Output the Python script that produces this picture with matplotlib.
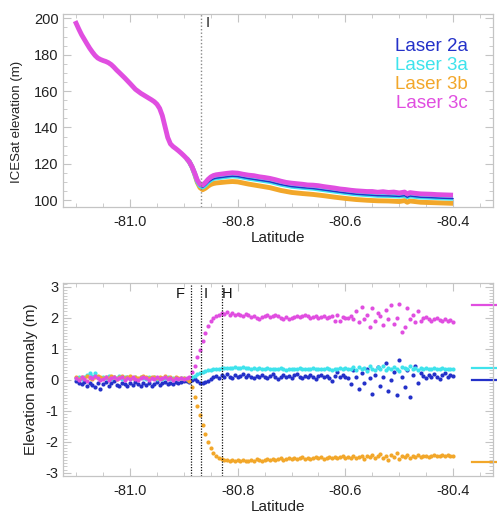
import numpy as np
import matplotlib
matplotlib.use("Agg")
import matplotlib.pyplot as plt
from matplotlib.ticker import MultipleLocator

plt.rcParams["font.family"] = ["Liberation Sans", "DejaVu Sans"]
plt.rcParams["axes.unicode_minus"] = False

# colours of the four laser campaigns
c2a = "#2431c9"
c3a = "#3fe3ec"
c3b = "#f2a72a"
c3c = "#e04ee0"

# ---- top panel: ICESat elevation (m) ----
top_lat_3c = [-81.102, -81.095, -81.090, -81.085, -81.080, -81.075, -81.070, -81.065,
              -81.060, -81.055, -81.050, -81.045, -81.040, -81.035, -81.030, -81.025,
              -81.020, -81.010, -81.000, -80.990, -80.980, -80.970, -80.960, -80.955,
              -80.950, -80.945, -80.940, -80.935, -80.930, -80.925, -80.920, -80.915,
              -80.910, -80.905, -80.900, -80.895, -80.890, -80.885, -80.880, -80.875,
              -80.870, -80.865, -80.860, -80.855, -80.850, -80.845, -80.840, -80.830,
              -80.820, -80.810, -80.800, -80.790, -80.780, -80.770, -80.760, -80.750,
              -80.740, -80.730, -80.720, -80.710, -80.700, -80.690, -80.680, -80.670,
              -80.660, -80.650, -80.640, -80.630, -80.620, -80.610, -80.600, -80.590,
              -80.580, -80.570, -80.560, -80.550, -80.540, -80.530, -80.520, -80.510,
              -80.500, -80.490, -80.485, -80.480, -80.470, -80.460, -80.450, -80.440,
              -80.430, -80.420, -80.410, -80.400]
top_3c = [198.5, 194.0, 191.0, 188.5, 186.0, 183.6, 181.5, 179.6,
          178.2, 177.4, 176.8, 176.3, 175.6, 174.6, 173.2, 171.6,
          170.2, 167.3, 164.2, 161.0, 158.8, 157.0, 155.2, 154.2,
          152.8, 150.5, 146.5, 140.5, 134.5, 131.0, 129.5, 128.4,
          127.2, 125.9, 124.5, 123.0, 121.2, 118.5, 115.0, 111.0,
          108.8, 108.4, 109.8, 111.5, 112.8, 113.6, 114.0, 114.4,
          114.8, 115.1, 114.9, 114.3, 113.8, 113.5, 112.9, 112.5,
          112.0, 111.3, 110.5, 109.8, 109.4, 109.1, 108.8, 108.4,
          108.3, 108.0, 107.5, 107.1, 106.7, 106.2, 105.9, 105.5,
          105.2, 105.0, 104.8, 104.8, 104.4, 104.7, 104.3, 104.5,
          104.0, 104.5, 103.5, 104.2, 103.8, 103.5, 103.4, 103.3,
          103.1, 103.0, 102.9, 102.8]

top_lat_b = [-80.895, -80.890, -80.885, -80.880, -80.875, -80.870, -80.865, -80.860,
             -80.855, -80.850, -80.845, -80.840, -80.830, -80.820, -80.810, -80.800,
             -80.780, -80.760, -80.740, -80.720, -80.700, -80.680, -80.660, -80.640,
             -80.620, -80.600, -80.580, -80.560, -80.540, -80.520, -80.500, -80.490,
             -80.485, -80.480, -80.460, -80.440, -80.420, -80.400]
top_2a = [122.8, 121.0, 118.2, 114.5, 110.2, 107.8, 107.1, 108.2,
          109.7, 110.9, 111.7, 112.1, 112.5, 112.9, 113.2, 113.0,
          111.9, 111.0, 110.1, 108.6, 107.5, 106.9, 106.4, 105.6,
          104.8, 104.0, 103.3, 102.9, 102.5, 102.4, 102.1, 102.5,
          101.6, 102.3, 101.6, 101.4, 101.1, 100.9]
top_3a = [123.0, 121.2, 118.4, 114.7, 110.4, 108.0, 107.3, 108.4,
          110.0, 111.2, 112.0, 112.3, 112.7, 113.1, 113.4, 113.2,
          112.1, 111.2, 110.3, 108.8, 107.7, 107.1, 106.6, 105.8,
          105.0, 104.2, 103.5, 103.1, 102.7, 102.6, 102.3, 102.6,
          101.9, 102.4, 101.8, 101.6, 101.3, 101.1]
top_3b = [123.0, 121.2, 118.4, 114.4, 109.8, 106.9, 105.8, 106.6,
          107.8, 108.7, 109.2, 109.5, 109.8, 110.1, 110.3, 110.1,
          108.9, 107.9, 106.9, 105.4, 104.3, 103.7, 103.2, 102.5,
          101.7, 101.0, 100.4, 100.0, 99.7, 99.6, 99.3, 99.8,
          98.9, 99.6, 98.9, 98.7, 98.5, 98.3]

# ---- bottom panel: elevation anomaly (m), one value every 0.005 deg ----
lat_start, lat_step, n_pts = -81.100, 0.005, 141

anom_3c = [0.05, 0.00, 0.08, 0.02, -0.03, 0.10, 0.04, 0.12, 0.06, 0.00,
           0.03, 0.08, -0.02, 0.05, 0.09, 0.01, 0.04, 0.07, 0.00, 0.06,
           0.02, 0.08, 0.03, -0.01, 0.05, 0.10, 0.04, 0.00, 0.06, 0.03,
           0.07, 0.01, 0.05, 0.09, 0.02, 0.04, 0.00, 0.06, 0.03, 0.05,
           0.02, 0.05, 0.10, 0.25, 0.45, 0.72, 0.95, 1.25, 1.50, 1.72,
           1.88, 2.00, 2.06, 2.10, 2.14, 2.12, 2.17, 2.10, 2.15, 2.08, 2.13,
           2.10, 2.05, 2.12, 2.08, 2.02, 2.06, 2.00, 1.96, 2.01, 2.04,
           2.08, 2.03, 2.06, 2.10, 2.04, 2.00, 1.97, 2.02, 1.95, 1.98,
           2.03, 2.07, 2.01, 2.05, 2.09, 2.04, 2.00, 2.03, 2.06, 1.99,
           2.02, 2.05, 1.98, 2.01, 2.06, 1.90, 2.10, 1.88, 2.02, 2.00,
           1.98, 2.04, 1.95, 2.20, 1.85, 2.35, 1.95, 2.10, 1.70, 2.30,
           1.90, 2.15, 2.05, 1.75, 2.25, 1.95, 2.40, 1.80, 2.00, 2.45,
           1.55, 1.70, 2.30, 1.95, 2.10, 1.85, 2.20, 1.90,
           1.98, 2.02, 1.95, 1.90, 1.97, 2.00, 1.93, 1.88, 1.95, 1.90, 1.92, 1.85]

anom_3a = [0.05, 0.10, 0.02, 0.08, 0.15, 0.20, 0.12, 0.22, 0.08, 0.04,
           0.10, 0.06, 0.12, 0.03, 0.08, 0.05, 0.11, 0.02, 0.07, 0.09,
           0.04, 0.06, 0.10, 0.03, 0.08, 0.05, 0.02, 0.07, 0.04, 0.09,
           0.03, 0.06, 0.01, 0.05, 0.08, 0.02, 0.04, 0.06, 0.03, 0.05,
           0.04, 0.03, 0.05, 0.08, 0.12, 0.17, 0.20, 0.24, 0.27, 0.30,
           0.32, 0.33, 0.35, 0.36, 0.37, 0.38, 0.37, 0.39, 0.38, 0.40, 0.39,
           0.38, 0.40, 0.37, 0.39, 0.36, 0.38, 0.35, 0.37, 0.34, 0.36,
           0.38, 0.35, 0.33, 0.36, 0.34, 0.37, 0.35, 0.32, 0.35, 0.33,
           0.36, 0.34, 0.37, 0.35, 0.33, 0.36, 0.34, 0.38, 0.35, 0.33,
           0.36, 0.34, 0.37, 0.35, 0.32, 0.36, 0.34, 0.37, 0.35, 0.38,
           0.36, 0.33, 0.40, 0.30, 0.42, 0.34, 0.38, 0.28, 0.44, 0.35,
           0.31, 0.40, 0.36, 0.45, 0.30, 0.38, 0.34, 0.42, 0.36, 0.29,
           0.40, 0.37, 0.33, 0.43, 0.35, 0.38, 0.32, 0.37,
           0.35, 0.38, 0.34, 0.36, 0.37, 0.33, 0.35, 0.38, 0.34, 0.36, 0.35, 0.33]

anom_2a = [-0.05, -0.10, -0.15, -0.08, -0.20, -0.12, -0.18, -0.25, -0.10, -0.30,
           -0.15, -0.08, -0.20, -0.12, -0.05, -0.18, -0.22, -0.10, -0.15, -0.20,
           -0.12, -0.18, -0.08, -0.15, -0.22, -0.10, -0.16, -0.12, -0.20, -0.14,
           -0.09, -0.17, -0.12, -0.08, -0.15, -0.10, -0.13, -0.07, -0.11, -0.08,
           -0.05, -0.03, -0.06, -0.02, 0.02, -0.04, -0.10, -0.12, -0.08, -0.05,
           0.02, 0.08, 0.12, 0.05, 0.15, 0.08, 0.18, 0.10, 0.05, 0.14, 0.08,
           0.12, 0.18, 0.07, 0.15, 0.10, 0.04, 0.12, 0.08, 0.16, 0.10,
           0.05, 0.13, 0.18, 0.09, 0.03, 0.10, 0.15, 0.08, 0.12, 0.06,
           0.14, 0.19, 0.10, 0.05, 0.12, 0.08, 0.15, 0.10, 0.03, 0.11,
           0.16, 0.09, 0.13, 0.05, -0.05, 0.12, 0.25, 0.08, 0.14, 0.10,
           0.05, -0.15, 0.30, 0.10, -0.30, 0.20, -0.10, 0.35, 0.05, -0.45,
           0.15, 0.40, -0.20, 0.10, 0.55, -0.35, 0.00, 0.25, -0.50, 0.65,
           0.10, -0.25, 0.30, -0.55, 0.15, 0.45, -0.10, 0.20,
           0.12, 0.05, 0.15, 0.08, 0.18, 0.10, 0.03, 0.14, 0.20, 0.09, 0.15, 0.12]

anom_3b = [0.08, 0.03, 0.10, 0.05, 0.12, 0.06, 0.02, 0.09, 0.13, 0.07,
           0.04, 0.10, 0.06, 0.12, 0.08, 0.03, 0.09, 0.11, 0.05, 0.08,
           0.12, 0.06, 0.10, 0.04, 0.09, 0.13, 0.07, 0.05, 0.10, 0.08,
           0.04, 0.09, 0.06, 0.11, 0.05, 0.08, 0.03, 0.07, 0.05, 0.06,
           0.04, 0.02, -0.05, -0.25, -0.55, -0.85, -1.15, -1.45, -1.75, -2.00,
           -2.20, -2.36, -2.46, -2.52, -2.56, -2.60, -2.58, -2.62, -2.60, -2.63, -2.59,
           -2.62, -2.58, -2.61, -2.64, -2.59, -2.62, -2.57, -2.60, -2.63, -2.58,
           -2.55, -2.59, -2.56, -2.60, -2.57, -2.54, -2.58, -2.55, -2.52, -2.56,
           -2.53, -2.57, -2.54, -2.51, -2.55, -2.52, -2.56, -2.53, -2.50, -2.54,
           -2.51, -2.55, -2.52, -2.49, -2.53, -2.50, -2.54, -2.51, -2.48, -2.52,
           -2.50, -2.53, -2.47, -2.52, -2.49, -2.45, -2.55, -2.48, -2.51, -2.42,
           -2.54, -2.47, -2.40, -2.52, -2.46, -2.58, -2.43, -2.50, -2.38, -2.55,
           -2.45, -2.49, -2.42, -2.52, -2.47, -2.50, -2.44, -2.49,
           -2.47, -2.45, -2.49, -2.46, -2.44, -2.48, -2.45, -2.43, -2.47, -2.44, -2.46, -2.48]

# reference levels drawn at the right edge of the lower panel
ref_levels = {"2a": 0.00, "3a": 0.37, "3b": -2.65, "3c": 2.40}

# boundary lines (latitude) and their labels
lines_top = {"I": -80.868}
lines_bot = {"F": -80.887, "I": -80.868, "H": -80.830}

lat = lat_start + lat_step * np.arange(n_pts)

fig = plt.figure(figsize=(4.97, 5.15), dpi=100)
ax1 = fig.add_axes([0.1268, 0.5981, 0.8652, 0.3747])
ax2 = fig.add_axes([0.1268, 0.0757, 0.8652, 0.3748])

frame_col = "#c4c4c4"
for ax in (ax1, ax2):
    ax.set_xlim(-81.1245, -80.3257)
    for s in ax.spines.values():
        s.set_color(frame_col)
        s.set_linewidth(0.9)
    ax.xaxis.set_major_locator(MultipleLocator(0.2))
    ax.xaxis.set_minor_locator(MultipleLocator(0.05))
    ax.tick_params(which="both", direction="in", top=True, right=True,
                   color=frame_col, labelcolor="#222222", labelsize=10.5)
    ax.tick_params(which="major", length=6, width=0.8)
    ax.tick_params(which="minor", length=3, width=0.6)
    ax.tick_params(axis="x", pad=6)
    ax.tick_params(axis="y", pad=3)
    ax.xaxis.set_major_formatter(plt.FuncFormatter(lambda v, p: "%.1f" % v))
    ax.set_xlabel("Latitude", fontsize=11, color="#222222")
    ax.xaxis.set_label_coords(0.5, -0.125)

# top panel
ax1.set_ylim(96.3, 202.4)
ax1.yaxis.set_major_locator(MultipleLocator(20))
ax1.yaxis.set_minor_locator(MultipleLocator(5))
ax1.plot(top_lat_b, top_3b, color=c3b, lw=3.5, solid_capstyle="butt")
ax1.plot(top_lat_b, top_3a, color=c3a, lw=3.5, solid_capstyle="butt")
ax1.plot(top_lat_b, top_2a, color=c2a, lw=1.0)
ax1.plot(top_lat_3c, top_3c, color=c3c, lw=3.5, solid_capstyle="butt")
for name, x in lines_top.items():
    ax1.axvline(x, color="#888888", lw=1.0, ls=(0, (1, 1.5)))
    ax1.text(x + 0.008, 197.3, name, fontsize=10.5, va="center", ha="left", color="#222222")
ax1.set_ylabel("ICESat elevation (m)", fontsize=9.5, color="#222222")
ax1.yaxis.set_label_coords(-0.094, 0.443)

legend_items = [("Laser 2a", c2a), ("Laser 3a", c3a), ("Laser 3b", c3b), ("Laser 3c", c3c)]
for k, (txt, col) in enumerate(legend_items):
    fig.text(0.942, 0.909 - k * 0.0369, txt, color=col, fontsize=13.5,
             ha="right", va="center")

# bottom panel
ax2.set_ylim(-3.11, 3.12)
ax2.yaxis.set_major_locator(MultipleLocator(1))
ax2.yaxis.set_minor_locator(MultipleLocator(0.1))
ax2.yaxis.set_major_formatter(plt.FuncFormatter(lambda v, p: "%d" % round(v)))
for series, col in [(anom_2a, c2a), (anom_3a, c3a), (anom_3b, c3b), (anom_3c, c3c)]:
    ax2.plot(lat, series, "o", color=col, ms=3.0, mew=0)
for name, x in lines_bot.items():
    ax2.axvline(x, color="#111111", lw=0.9, ls=(0, (1, 1.2)))
for name, x, dx in [("F", lines_bot["F"], -0.020), ("I", lines_bot["I"], 0.009),
                    ("H", lines_bot["H"], 0.010)]:
    ax2.text(x + dx, 2.75, name, fontsize=10.5, va="center", ha="center", color="#111111")
ytr = ax2.get_yaxis_transform()
for key, col in [("3c", c3c), ("3a", c3a), ("2a", c2a), ("3b", c3b)]:
    ax2.plot([0.951, 1.03], [ref_levels[key]] * 2, color=col, lw=1.6,
             transform=ytr, clip_on=False)
ax2.set_ylabel("Elevation anomaly (m)", fontsize=11, color="#222222")
ax2.yaxis.set_label_coords(-0.059, 0.503)

fig.savefig("out.png", dpi=100)
